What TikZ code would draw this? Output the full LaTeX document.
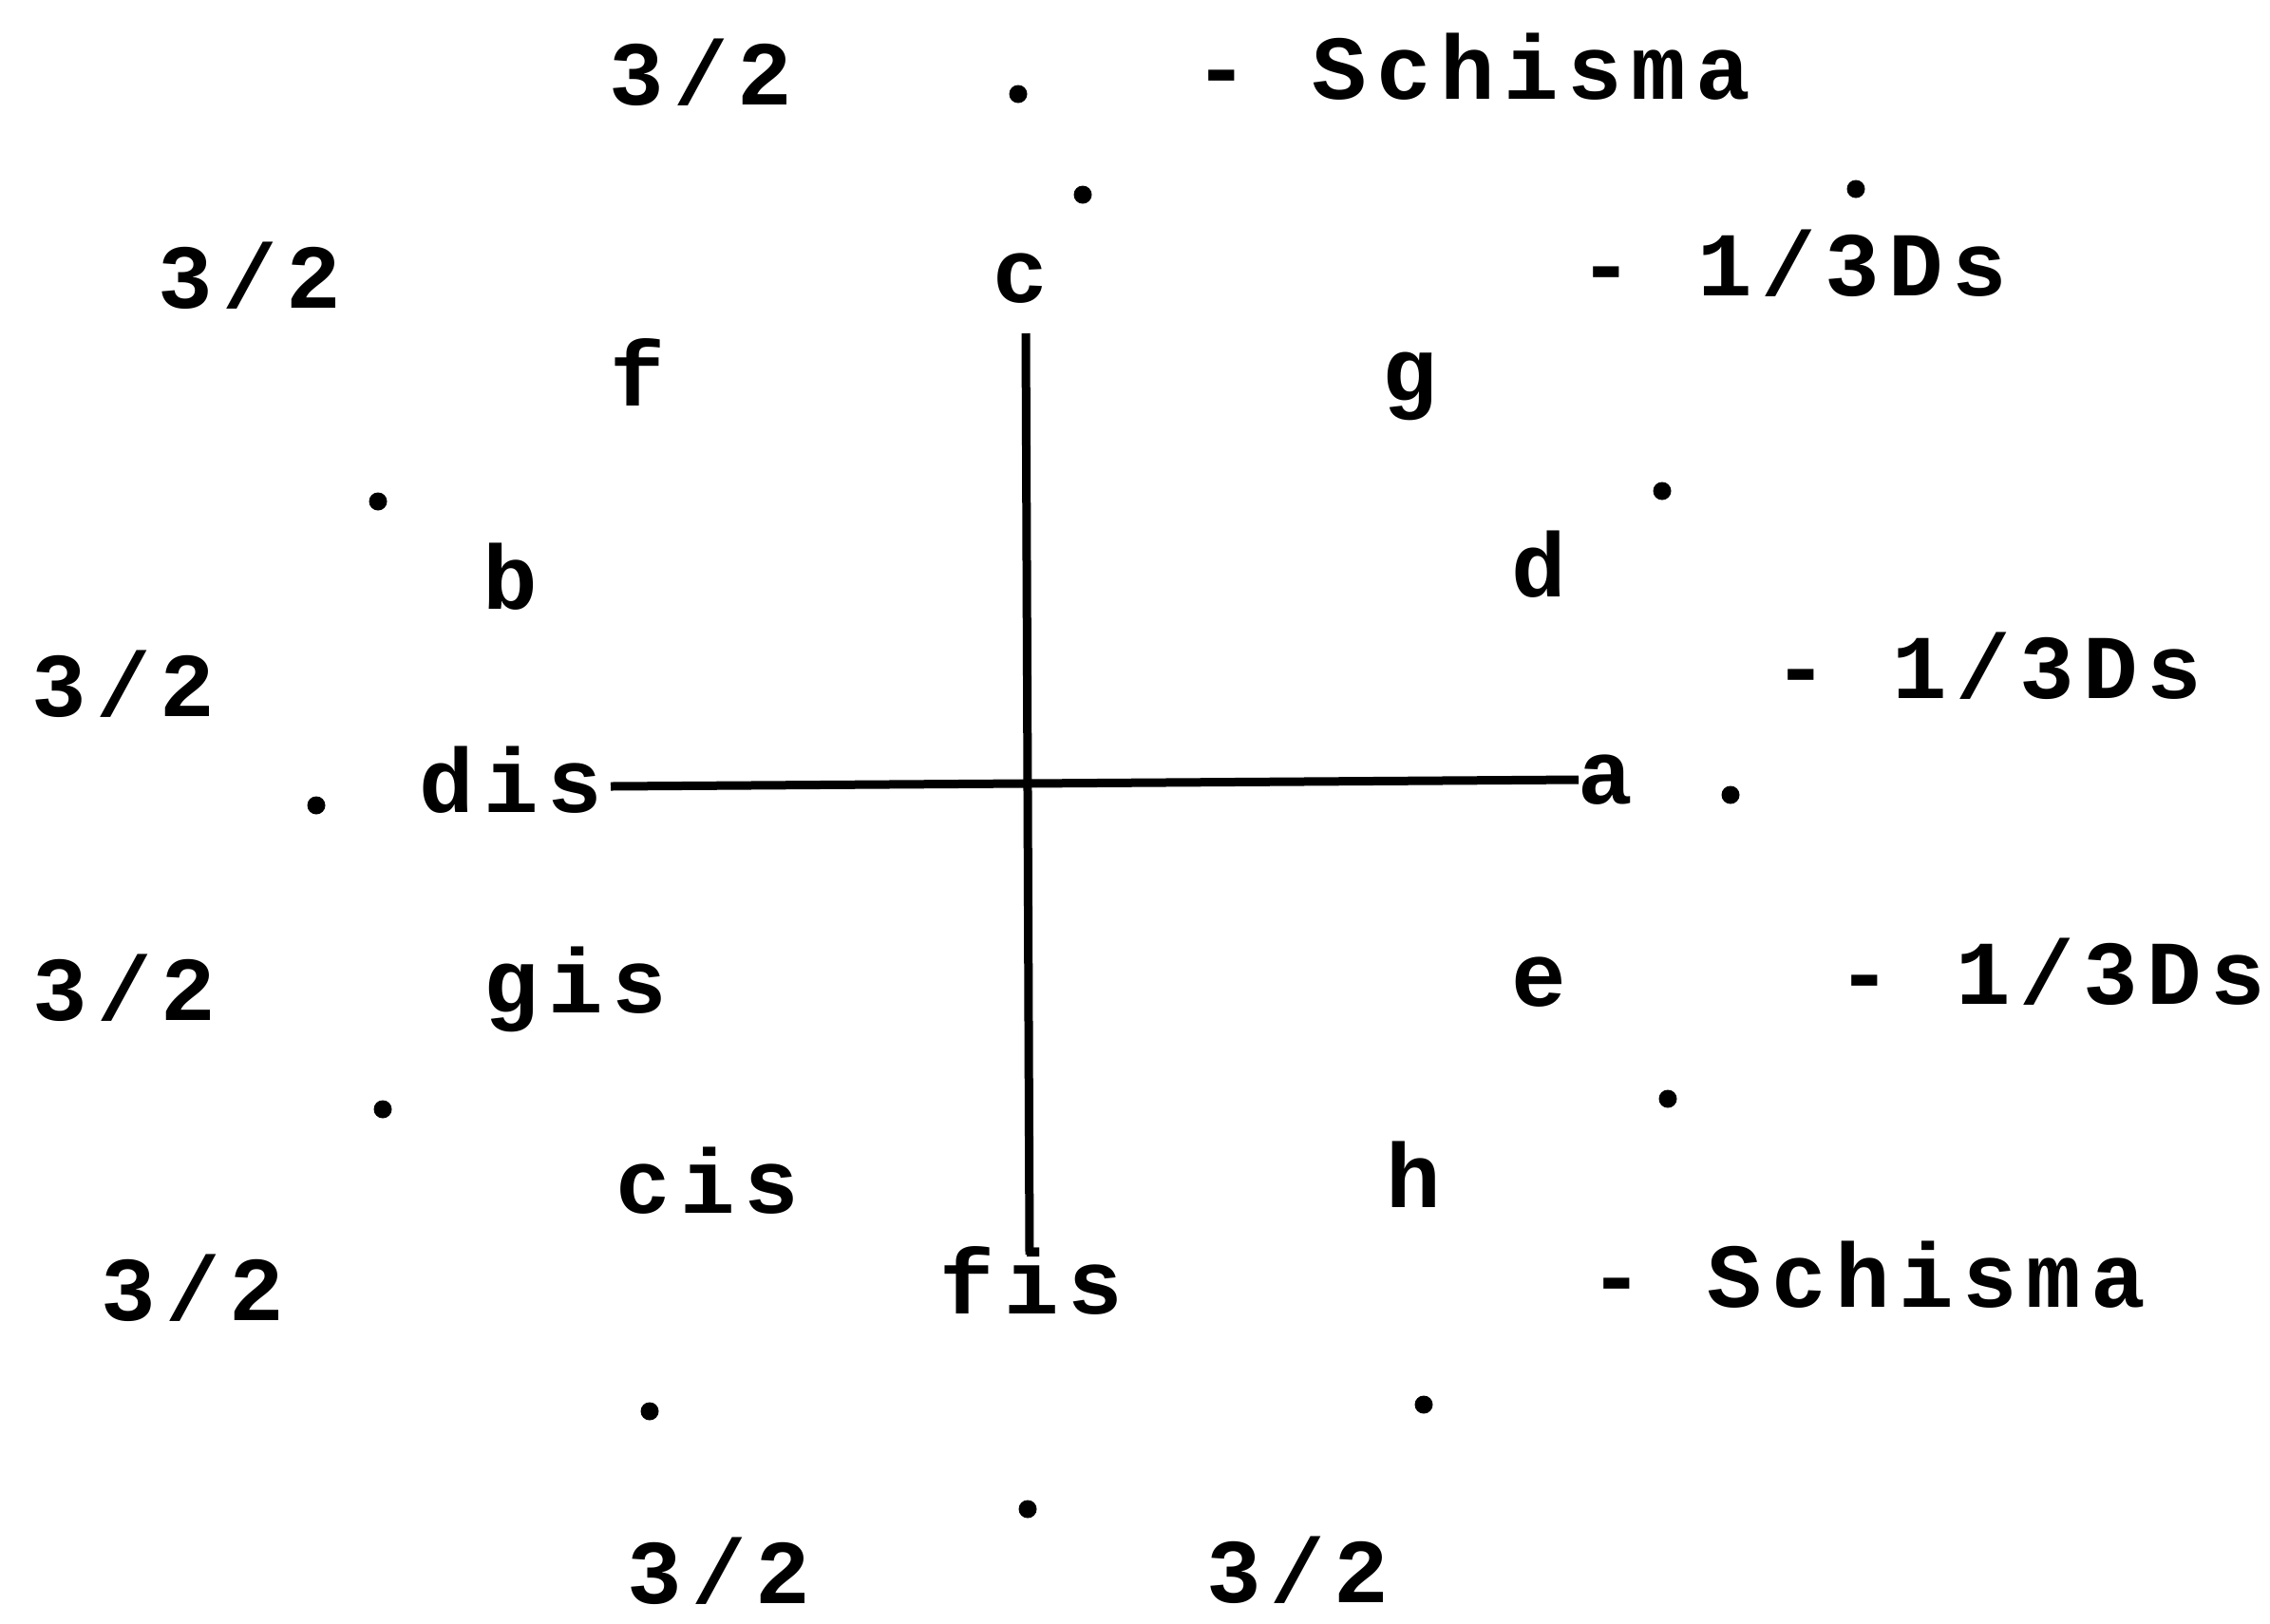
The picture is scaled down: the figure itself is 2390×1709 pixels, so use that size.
\documentclass[tikz,border=0pt]{standalone}
\usepackage{fontspec}
\newfontfamily\tw{Liberation Mono}[LetterSpace=10]
\begin{document}
\begin{tikzpicture}[x=1pt,y=-1pt,
  txt/.style={inner sep=0pt, outer sep=0pt, anchor=base, font=\tw\bfseries\fontsize{96}{110}\selectfont},
  pt/.style={circle, fill=black, draw=none, inner sep=0pt, minimum width=17pt, minimum height=19pt},
  axis/.style={line width=9pt, black}]
\useasboundingbox[fill=white] (0,0) rectangle (2390,1709);
% texts
\node[txt] (t1) at (738,110) {3/2};
\node[txt] (s1) at (1550,104) {- Schisma};
\node[txt] (t2) at (263,324) {3/2};
\node[txt] (c) at (1074,318) {c};
\node[txt] (r1) at (1888,311) {- 1/3Ds};
\node[txt] (f) at (671,427) {f};
\node[txt] (g) at (1484,422) {g};
\node[txt] (b) at (537,641) {b};
\node[txt] (d) at (1620,628) {d};
\node[txt] (t3) at (130,754) {3/2};
\node[txt] (r2) at (2093,735) {- 1/3Ds};
\node[txt] (dis) at (538,855) {dis};
\node[txt] (a) at (1690,846) {a};
\node[txt] (t4) at (131,1074) {3/2};
\node[txt] (gis) at (606,1066) {gis};
\node[txt] (e) at (1620,1059) {e};
\node[txt] (r3) at (2160,1057) {- 1/3Ds};
\node[txt] (cis) at (745,1277) {cis};
\node[txt] (h) at (1488,1271) {h};
\node[txt] (t5) at (203,1390) {3/2};
\node[txt] (fis) at (1086,1383) {fis};
\node[txt] (s2) at (1966,1376) {- Schisma};
\node[txt] (t6) at (757,1688) {3/2};
\node[txt] (t7) at (1366,1687) {3/2};
% dots
\node[pt] (d1) at (1072,99) {};
\node[pt] (d2) at (1140,205) {};
\node[pt] (d3) at (1954,199) {};
\node[pt] (d4) at (398,528) {};
\node[pt] (d5) at (1750,517) {};
\node[pt] (d6) at (333,848) {};
\node[pt] (d7) at (1822,837) {};
\node[pt] (d8) at (403,1168) {};
\node[pt] (d9) at (1756,1157) {};
\node[pt] (d10) at (684,1486) {};
\node[pt] (d11) at (1499,1479) {};
\node[pt] (d12) at (1082,1589) {};
% axes
\coordinate (vtop) at (1080,351);
\coordinate (vbot) at (1084,1321);
\coordinate (hl) at (643,828);
\coordinate (hr) at (1662,821);
\draw[axis] (vtop) -- (vbot);
\draw[axis] (hl) -- (hr);
\end{tikzpicture}
\end{document}
